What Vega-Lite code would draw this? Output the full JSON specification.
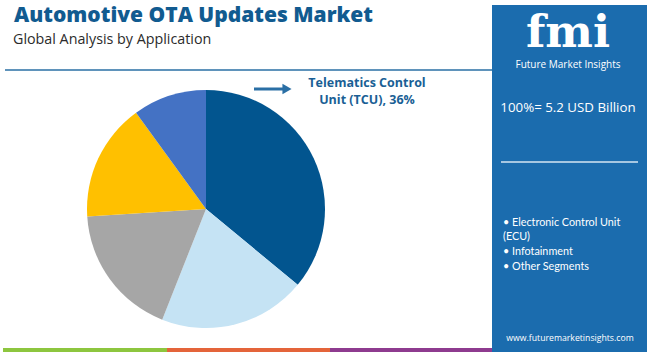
{
  "$schema": "https://vega.github.io/schema/vega-lite/v6.json",
  "width": 650,
  "height": 352,
  "autosize": {"type": "none"},
  "padding": 0,
  "background": "white",
  "config": {"view": {"stroke": null}},
  "datasets": {
    "shares": [
      {"segment": "Telematics Control Unit (TCU)", "share": 36, "rank": 1},
      {"segment": "Electronic Control Unit (ECU)", "share": 20, "rank": 2},
      {"segment": "Infotainment", "share": 18, "rank": 3},
      {"segment": "Other Segments 1", "share": 16, "rank": 4},
      {"segment": "Other Segments 2", "share": 10, "rank": 5}
    ],
    "one": [{}],
    "legendItems": [
      {"line": "• Electronic Control Unit", "row": 1},
      {"line": "(ECU)", "row": 2},
      {"line": "• Infotainment", "row": 3},
      {"line": "• Other Segments", "row": 4}
    ]
  },
  "layer": [
    {
      "data": {"name": "one"},
      "mark": {"type": "rect", "fill": "#1b6cae"},
      "encoding": {"x": {"value": 492}, "x2": {"value": 647}, "y": {"value": 5}, "y2": {"value": 352}}
    },
    {
      "data": {"name": "shares"},
      "mark": {"type": "arc", "x": 206, "y": 209, "outerRadius": 119},
      "encoding": {
        "theta": {"field": "share", "type": "quantitative", "stack": true},
        "order": {"field": "rank", "type": "quantitative"},
        "color": {
          "field": "segment",
          "type": "nominal",
          "legend": null,
          "scale": {
            "domain": ["Telematics Control Unit (TCU)", "Electronic Control Unit (ECU)", "Infotainment", "Other Segments 1", "Other Segments 2"],
            "range": ["#02558f", "#c5e3f4", "#a6a6a6", "#ffc000", "#4472c4"]
          }
        }
      }
    },
    {
      "data": {"name": "one"},
      "mark": {"type": "text", "x": 14, "y": 21.5, "align": "left", "baseline": "alphabetic", "text": "Automotive OTA Updates Market", "font": "Open Sans", "fontWeight": 800, "fontSize": 21, "color": "#115b90"},
      "encoding": {}
    },
    {
      "data": {"name": "one"},
      "mark": {"type": "text", "x": 13, "y": 44, "align": "left", "baseline": "alphabetic", "text": "Global Analysis by Application", "font": "Open Sans", "fontSize": 14.3, "color": "#2b2b2b"},
      "encoding": {}
    },
    {
      "data": {"name": "one"},
      "mark": {"type": "rule", "color": "#2a6fa5", "strokeWidth": 1.5},
      "encoding": {"x": {"value": 5}, "x2": {"value": 492}, "y": {"value": 70}, "y2": {"value": 70}}
    },
    {
      "data": {"name": "one"},
      "mark": {"type": "rule", "color": "#2a6fa5", "strokeWidth": 3},
      "encoding": {"x": {"value": 254}, "x2": {"value": 285}, "y": {"value": 89}, "y2": {"value": 89}}
    },
    {
      "data": {"name": "one"},
      "mark": {"type": "point", "shape": "triangle-right", "filled": true, "size": 110, "color": "#2a6fa5", "opacity": 1},
      "encoding": {"x": {"value": 287}, "y": {"value": 89}}
    },
    {
      "data": {"name": "one"},
      "mark": {"type": "text", "x": 367, "y": 86.5, "align": "center", "baseline": "alphabetic", "text": "Telematics Control", "font": "Open Sans", "fontWeight": "bold", "fontSize": 12.5, "color": "#1a5f95"},
      "encoding": {}
    },
    {
      "data": {"name": "one"},
      "mark": {"type": "text", "x": 367, "y": 103.5, "align": "center", "baseline": "alphabetic", "text": "Unit (TCU), 36%", "font": "Open Sans", "fontWeight": "bold", "fontSize": 12.5, "color": "#1a5f95"},
      "encoding": {}
    },
    {
      "data": {"name": "one"},
      "mark": {"type": "text", "x": 568, "y": 47, "align": "center", "baseline": "alphabetic", "text": "fmi", "font": "DejaVu Serif", "fontWeight": "bold", "fontSize": 45, "color": "white"},
      "encoding": {}
    },
    {
      "data": {"name": "one"},
      "mark": {"type": "text", "x": 568, "y": 67.5, "align": "center", "baseline": "alphabetic", "text": "Future Market Insights", "font": "Open Sans", "fontSize": 10, "color": "white"},
      "encoding": {}
    },
    {
      "data": {"name": "one"},
      "mark": {"type": "text", "x": 568, "y": 112, "align": "center", "baseline": "alphabetic", "text": "100%= 5.2 USD Billion", "font": "Open Sans", "fontSize": 13.3, "color": "white"},
      "encoding": {}
    },
    {
      "data": {"name": "one"},
      "mark": {"type": "rule", "color": "#d6e6f3", "strokeWidth": 1.5},
      "encoding": {"x": {"value": 501}, "x2": {"value": 638}, "y": {"value": 162}, "y2": {"value": 162}}
    },
    {
      "data": {"name": "legendItems"},
      "mark": {"type": "text", "x": 503, "align": "left", "baseline": "middle", "font": "Lato", "fontSize": 10.8, "color": "white"},
      "encoding": {
        "y": {"field": "row", "type": "quantitative", "scale": {"domain": [1, 4], "range": [222.5, 266.5]}, "axis": null},
        "text": {"field": "line", "type": "nominal"}
      }
    },
    {
      "data": {"name": "one"},
      "mark": {"type": "text", "x": 570, "y": 338, "align": "center", "baseline": "middle", "text": "www.futuremarketinsights.com", "font": "Open Sans", "fontSize": 8.7, "color": "white"},
      "encoding": {}
    },
    {
      "data": {"name": "one"},
      "mark": {"type": "rect", "fill": "#8dc63f"},
      "encoding": {"x": {"value": 3}, "x2": {"value": 167}, "y": {"value": 348}, "y2": {"value": 352}}
    },
    {
      "data": {"name": "one"},
      "mark": {"type": "rect", "fill": "#e4643a"},
      "encoding": {"x": {"value": 167}, "x2": {"value": 330}, "y": {"value": 348}, "y2": {"value": 352}}
    },
    {
      "data": {"name": "one"},
      "mark": {"type": "rect", "fill": "#8e3b8f"},
      "encoding": {"x": {"value": 330}, "x2": {"value": 492}, "y": {"value": 348}, "y2": {"value": 352}}
    }
  ]
}
